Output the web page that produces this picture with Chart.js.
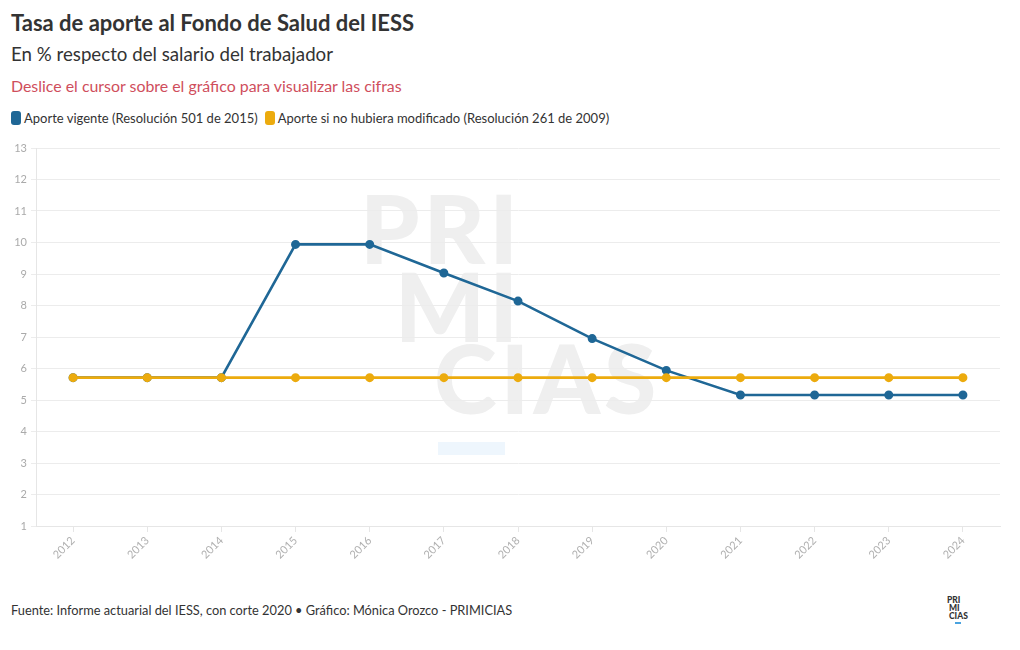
<!DOCTYPE html>
<html>
<head>
<meta charset="utf-8">
<script src="https://cdn.jsdelivr.net/npm/chart.js@4"></script>
<style>
  body { margin: 0; width: 1020px; height: 650px; background: #fff; font-family: Lato, "Liberation Sans", sans-serif; color: #333; position: relative; overflow: hidden; }
  .title { position: absolute; left: 11px; top: 9px; font-size: 22px; font-weight: bold; color: #333; letter-spacing: 0px; }
  .subtitle { position: absolute; left: 11px; top: 43px; font-size: 18.7px; color: #333; }
  .note { position: absolute; left: 11px; top: 76px; font-size: 15.9px; color: #cf4e5c; }
  .legend { position: absolute; left: 11px; top: 110px; font-size: 13px; color: #333; display: flex; align-items: center; }
  .legend span.box { display: inline-block; width: 10px; height: 14px; border-radius: 3px; margin-right: 3px; }
  .legend span.item { margin-right: 7px; display: inline-flex; align-items: center; }
  .wm { position: absolute; font-size: 95px; font-weight: 900; color: #efefef; line-height: 1; letter-spacing: 4px; }
  .wmbar { position: absolute; left: 438px; top: 442px; width: 67px; height: 13px; background: #eef6fd; }
  .footer { position: absolute; left: 11px; top: 602px; font-size: 12.8px; color: #333; }
  .logo { position: absolute; left: 947px; top: 596px; font-size: 8.5px; font-weight: 900; line-height: 8px; color: #333; }
  .logo i { display: block; width: 6px; height: 1.5px; background: #4aa3df; margin: 2px 0 0 8px; }
  #wrap { position: absolute; left: 0; top: 130px; width: 1020px; height: 450px; }
</style>
</head>
<body>
<div class="title">Tasa de aporte al Fondo de Salud del IESS</div>
<div class="subtitle">En % respecto del salario del trabajador</div>
<div class="note">Deslice el cursor sobre el gráfico para visualizar las cifras</div>
<div class="legend" id="legend"></div>

<div class="wm" style="right:498px; top:180px;">PRI</div>
<div class="wm" style="right:498px; top:258px;">MI</div>
<div class="wm" style="left:434px; top:330px;">CIAS</div>
<div class="wmbar"></div>

<div id="wrap"><canvas id="chart"></canvas></div>

<div class="footer">Fuente: Informe actuarial del IESS, con corte 2020 • Gráfico: Mónica Orozco - PRIMICIAS</div>
<div class="logo">PRI<br>&nbsp;MI<br>&nbsp;CIAS<i></i></div>

<script>
const years = ['2012', '2013', '2014', '2015', '2016', '2017', '2018', '2019', '2020', '2021', '2022', '2023', '2024']
const aporteVigente = [5.71, 5.71, 5.71, 9.94, 9.94, 9.03, 8.14, 6.95, 5.94, 5.16, 5.16, 5.16, 5.16]
const aporteSinCambio = [5.71, 5.71, 5.71, 5.71, 5.71, 5.71, 5.71, 5.71, 5.71, 5.71, 5.71, 5.71, 5.71]
const seriesNames = ['Aporte vigente (Resolución 501 de 2015)', 'Aporte si no hubiera modificado (Resolución 261 de 2009)']
const seriesColors = ['#1f6796', '#ecab0e']
const yTicks = [1, 13]

// html legend
let legend = document.getElementById('legend')
seriesNames.forEach((name, i) => {
    let item = document.createElement('span')
    item.className = 'item'
    item.innerHTML = '<span class="box" style="background:' + seriesColors[i] + '"></span>' + name
    legend.appendChild(item)
})

const tickFont = { family: 'Lato, sans-serif', size: 11 }

let chart = new Chart(document.getElementById('chart'), {
    type: 'line',
    data: {
        labels: years,
        datasets: [{
            label: seriesNames[0],
            data: aporteVigente,
            borderColor: seriesColors[0],
            backgroundColor: seriesColors[0],
            borderWidth: 2.6,
            pointRadius: 3.2,
            tension: 0,
            order: 1
        },
        {
            label: seriesNames[1],
            data: aporteSinCambio,
            borderColor: seriesColors[1],
            backgroundColor: seriesColors[1],
            borderWidth: 2.6,
            pointRadius: 3.2,
            tension: 0,
            order: 0
        }]
    },
    options: {
        responsive: true,
        maintainAspectRatio: false,
        animation: false,
        layout: { padding: { top: 18, right: 20, left: 0, bottom: 0 } },
        plugins: {
            legend: { display: false },
            tooltip: { enabled: false }
        },
        scales: {
            x: {
                offset: true,
                grid: { display: true, drawOnChartArea: false, tickLength: 6, color: '#e6e6e6' },
                border: { color: '#e6e6e6' },
                ticks: { color: '#b0b0b0', font: tickFont, minRotation: 45, maxRotation: 45, padding: 2 },
                afterFit: scale => { scale.height = 54 }
            },
            y: {
                min: yTicks[0],
                max: yTicks[1],
                grid: { color: '#ececec', tickLength: 5 },
                border: { color: '#e6e6e6' },
                ticks: { stepSize: 1, color: '#aaa', font: tickFont, padding: 4 },
                afterFit: scale => { scale.width = 36 }
            }
        }
    }
})
</script>
</body>
</html>
